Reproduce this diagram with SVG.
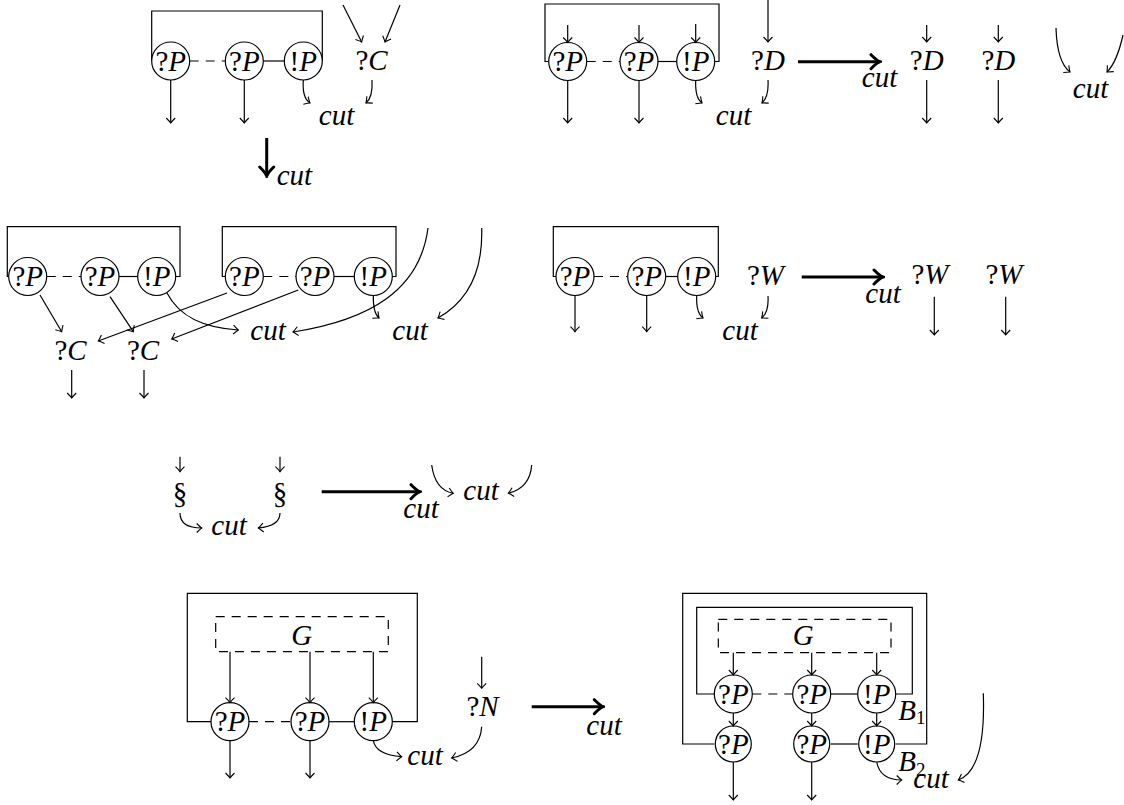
<svg xmlns="http://www.w3.org/2000/svg" width="1124" height="805" viewBox="0 0 1124 805">
<style>
text{font-family:"Liberation Serif","DejaVu Serif",serif;font-size:29px;fill:#000}
.c{text-anchor:middle}
.i{font-style:italic}
.sub{font-size:19px}
.ln{fill:none;stroke:#000;stroke-width:1.2}
.d{fill:none;stroke:#000;stroke-width:1.2;stroke-dasharray:9 7}
.ar{fill:none;stroke:#000;stroke-width:1.2;marker-end:url(#h)}
.big{fill:none;stroke:#000;stroke-width:3;marker-end:url(#H)}
circle{fill:#fff;stroke:#000;stroke-width:1.2}
</style>
<defs>
<marker id="h" viewBox="-8 -8 16 16" markerWidth="16" markerHeight="16" refX="0" refY="0" orient="auto" markerUnits="userSpaceOnUse">
<path d="M-5,-4.5 Q-1.5,-1 0,0 Q-1.5,1 -5,4.5" fill="none" stroke="#000" stroke-width="1.1"/>
</marker>
<marker id="H" viewBox="-12 -10 14 20" markerWidth="14" markerHeight="20" refX="0" refY="0" orient="auto" markerUnits="userSpaceOnUse">
<path d="M-9,-7 Q-3,-1 0,0 Q-3,1 -9,7" fill="none" stroke="#000" stroke-width="3" stroke-linecap="round"/>
</marker>
<symbol id="qP" overflow="visible"><text class="c" y="9.5"><tspan>?</tspan><tspan class="i">P</tspan></text></symbol>
<symbol id="bP" overflow="visible"><text class="c" y="9.5"><tspan>!</tspan><tspan class="i">P</tspan></text></symbol>
</defs>

<!-- ===== Section 1 ===== -->
<g id="s1-box"><path class="ln" d="M151.7,61 V11 H322.3 V61"/></g>
<g id="s1-links"><line class="d" x1="189.7" y1="61" x2="225.3" y2="61"/><line class="ln" x1="263.3" y1="61" x2="284.3" y2="61"/></g>
<g id="s1-p1"><circle cx="170.7" cy="61" r="19"/><use href="#qP" x="170.7" y="61"/></g>
<g id="s1-p2"><circle cx="244.3" cy="61" r="19"/><use href="#qP" x="244.3" y="61"/></g>
<g id="s1-p3"><circle cx="303.3" cy="61" r="19"/><use href="#bP" x="303.3" y="61"/></g>
<g id="s1-C"><text class="c" x="371.5" y="70"><tspan>?</tspan><tspan class="i">C</tspan></text></g>
<g id="s1-cut"><text class="c i" x="336.5" y="125">cut</text></g>

<g id="arrow1"><text class="i" x="276.7" y="185">cut</text></g>

<!-- ===== Section 2 ===== -->
<g id="s2-box"><path class="ln" d="M548.7,61.5 H545 V4 H719 V61.5 H714.7"/></g>
<g id="s2-links"><line class="d" x1="586.7" y1="61.5" x2="620" y2="61.5"/><line class="ln" x1="658" y1="61.5" x2="676.7" y2="61.5"/></g>
<g id="s2-p1"><circle cx="567.7" cy="61.5" r="19"/><use href="#qP" x="567.7" y="61.5"/></g>
<g id="s2-p2"><circle cx="639" cy="61.5" r="19"/><use href="#qP" x="639" y="61.5"/></g>
<g id="s2-p3"><circle cx="695.7" cy="61.5" r="19"/><use href="#bP" x="695.7" y="61.5"/></g>
<g id="s2-D"><text class="c" x="768" y="70"><tspan>?</tspan><tspan class="i">D</tspan></text></g>
<g id="s2-cut"><text class="c i" x="733.5" y="125">cut</text></g>
<g id="arrow2"><text class="c i" x="879.5" y="87">cut</text></g>
<g id="s2-D1"><text class="c" x="926.7" y="70"><tspan>?</tspan><tspan class="i">D</tspan></text></g>
<g id="s2-D2"><text class="c" x="998.3" y="70"><tspan>?</tspan><tspan class="i">D</tspan></text></g>
<g id="s2-cut2"><text class="c i" x="1090.5" y="98">cut</text></g>

<!-- ===== Section 3 ===== -->
<g id="s3-box1"><path class="ln" d="M8.7,276.5 H7.3 V226.7 H180 V276.5 H175.7"/></g>
<g id="s3-links1"><line class="d" x1="46.7" y1="276.5" x2="81" y2="276.5"/><line class="ln" x1="119" y1="276.5" x2="137.7" y2="276.5"/></g>
<g id="s3-p1"><circle cx="27.7" cy="276.5" r="19"/><use href="#qP" x="27.7" y="276.5"/></g>
<g id="s3-p2"><circle cx="100" cy="276.5" r="19"/><use href="#qP" x="100" y="276.5"/></g>
<g id="s3-p3"><circle cx="156.7" cy="276.5" r="19"/><use href="#bP" x="156.7" y="276.5"/></g>
<g id="s3-box2"><path class="ln" d="M225.3,276.5 H222.3 V226.7 H396 V276.5 H392.3"/></g>
<g id="s3-links2"><line class="d" x1="263.3" y1="276.5" x2="296" y2="276.5"/><line class="ln" x1="334" y1="276.5" x2="354.3" y2="276.5"/></g>
<g id="s3-p4"><circle cx="244.3" cy="276.5" r="19"/><use href="#qP" x="244.3" y="276.5"/></g>
<g id="s3-p5"><circle cx="315" cy="276.5" r="19"/><use href="#qP" x="315" y="276.5"/></g>
<g id="s3-p6"><circle cx="373.3" cy="276.5" r="19"/><use href="#bP" x="373.3" y="276.5"/></g>
<g id="s3-C1"><text class="c" x="70.5" y="360"><tspan>?</tspan><tspan class="i">C</tspan></text></g>
<g id="s3-C2"><text class="c" x="143" y="360"><tspan>?</tspan><tspan class="i">C</tspan></text></g>
<g id="s3-cut1"><text class="c i" x="268" y="340">cut</text></g>
<g id="s3-cut2"><text class="c i" x="410" y="340">cut</text></g>

<!-- ===== Section 4 ===== -->
<g id="s4-box"><path class="ln" d="M556,276.5 H553.3 V226.7 H718.3 V276.5 H715.7"/></g>
<g id="s4-links"><line class="d" x1="594" y1="276.5" x2="627.7" y2="276.5"/><line class="ln" x1="665.7" y1="276.5" x2="677.7" y2="276.5"/></g>
<g id="s4-p1"><circle cx="575" cy="276.5" r="19"/><use href="#qP" x="575" y="276.5"/></g>
<g id="s4-p2"><circle cx="646.7" cy="276.5" r="19"/><use href="#qP" x="646.7" y="276.5"/></g>
<g id="s4-p3"><circle cx="696.7" cy="276.5" r="19"/><use href="#bP" x="696.7" y="276.5"/></g>
<g id="s4-W"><text class="c" x="765.5" y="285"><tspan>?</tspan><tspan class="i">W</tspan></text></g>
<g id="s4-cut"><text class="c i" x="740" y="340">cut</text></g>
<g id="arrow4"><text class="c i" x="883" y="303">cut</text></g>
<g id="s4-W1"><text class="c" x="930" y="284"><tspan>?</tspan><tspan class="i">W</tspan></text></g>
<g id="s4-W2"><text class="c" x="1004" y="284"><tspan>?</tspan><tspan class="i">W</tspan></text></g>

<!-- ===== Section 5 ===== -->
<g id="s5-S1"><text class="c" x="180" y="503">§</text></g>
<g id="s5-S2"><text class="c" x="280" y="503">§</text></g>
<g id="s5-cut"><text class="c i" x="229" y="535">cut</text></g>
<g id="arrow5"><text class="c i" x="421" y="518">cut</text></g>
<g id="s5-cut2"><text class="c i" x="481" y="500">cut</text></g>

<!-- ===== Section 6 ===== -->
<g id="s6-box"><path class="ln" d="M211,721.7 H187.3 V593.3 H417.3 V721.7 H392.3"/></g>
<g id="s6-G"><rect class="d" x="215.7" y="616.7" width="172.6" height="35"/><text class="c i" x="301.7" y="645">G</text></g>
<g id="s6-links"><line class="d" x1="249" y1="721.7" x2="291" y2="721.7"/><line class="ln" x1="329" y1="721.7" x2="354.3" y2="721.7"/></g>
<g id="s6-p1"><circle cx="230" cy="721.7" r="19"/><use href="#qP" x="230" y="721.7"/></g>
<g id="s6-p2"><circle cx="310" cy="721.7" r="19"/><use href="#qP" x="310" y="721.7"/></g>
<g id="s6-p3"><circle cx="373.3" cy="721.7" r="19"/><use href="#bP" x="373.3" y="721.7"/></g>
<g id="s6-cut"><text class="c i" x="425" y="765">cut</text></g>
<g id="s6-N"><text class="c" x="482.5" y="716"><tspan>?</tspan><tspan class="i">N</tspan></text></g>
<g id="arrow6"><text class="c i" x="604" y="735">cut</text></g>

<!-- ===== Section 7 ===== -->
<g id="s7-outer"><path class="ln" d="M714.3,744 H682.7 V593.3 H926.7 V744 H895.7"/></g>
<g id="s7-inner"><path class="ln" d="M714.3,694 H696.7 V607.3 H912.3 V694 H895.7"/></g>
<g id="s7-G"><rect class="d" x="718.3" y="619.3" width="172.7" height="33.4"/><text class="c i" x="803.3" y="645">G</text></g>
<g id="s7-links"><line class="d" x1="752.3" y1="694" x2="792.7" y2="694"/><line class="ln" x1="830.7" y1="694" x2="857.7" y2="694"/><line class="ln" x1="830.7" y1="744" x2="857.7" y2="744"/></g>
<g id="s7-p1"><circle cx="733.3" cy="694" r="19"/><use href="#qP" x="733.3" y="694"/></g>
<g id="s7-p2"><circle cx="811.7" cy="694" r="19"/><use href="#qP" x="811.7" y="694"/></g>
<g id="s7-p3"><circle cx="876.7" cy="694" r="19"/><use href="#bP" x="876.7" y="694"/></g>
<g id="s7-p4"><circle cx="733.3" cy="744" r="18"/><use href="#qP" x="733.3" y="744"/></g>
<g id="s7-p5"><circle cx="811.7" cy="744" r="18"/><use href="#qP" x="811.7" y="744"/></g>
<g id="s7-p6"><circle cx="876.7" cy="744" r="18"/><use href="#bP" x="876.7" y="744"/></g>
<g id="s7-B1"><text class="i" x="898.3" y="720">B<tspan class="sub" font-style="normal" dy="4">1</tspan></text></g>
<g id="s7-B2"><text class="i" x="898.3" y="771">B<tspan class="sub" font-style="normal" dy="5">2</tspan></text></g>
<g id="s7-cut"><text class="c i" x="931" y="788">cut</text></g>

<!-- ===== Connectors ===== -->
<g id="connectors">
<line class="ar" x1="170.7" y1="80" x2="170.7" y2="123"/>
<line class="ar" x1="244.3" y1="80" x2="244.3" y2="123"/>
<path class="ar" d="M303.3,80 Q302,98 310,103"/>
<line class="ar" x1="343" y1="5" x2="361.7" y2="42"/>
<line class="ar" x1="400" y1="5" x2="385" y2="42"/>
<path class="ar" d="M372,80 Q373,97 366,103"/>
<line class="big" x1="266.7" y1="138" x2="266.7" y2="176"/>
<line class="ar" x1="567.7" y1="25" x2="567.7" y2="42.5"/>
<line class="ar" x1="639" y1="25" x2="639" y2="42.5"/>
<line class="ar" x1="695.7" y1="24" x2="695.7" y2="42.5"/>
<line class="ar" x1="567.7" y1="80.5" x2="567.7" y2="123"/>
<line class="ar" x1="639" y1="80.5" x2="639" y2="123"/>
<path class="ar" d="M695.7,80.5 Q695,98 702,103"/>
<line class="ar" x1="768" y1="0" x2="768" y2="42"/>
<path class="ar" d="M768,80 Q769,97 762,103"/>
<line class="big" x1="798" y1="61.7" x2="880" y2="61.7"/>
<line class="ar" x1="926.7" y1="25" x2="926.7" y2="42"/>
<line class="ar" x1="998.3" y1="25" x2="998.3" y2="42"/>
<line class="ar" x1="926.7" y1="80" x2="926.7" y2="123"/>
<line class="ar" x1="998.3" y1="80" x2="998.3" y2="123"/>
<path class="ar" d="M1056,28 Q1057,62 1070,72"/>
<path class="ar" d="M1123,35 Q1117,62 1107,72"/>
<line class="ar" x1="40" y1="295" x2="61.7" y2="331.7"/>
<line class="ar" x1="110" y1="296.7" x2="133.3" y2="331.7"/>
<path class="ar" d="M167,293 C180,318 205,328 238.3,330"/>
<line class="ar" x1="227" y1="293" x2="98.3" y2="341"/>
<line class="ar" x1="298.3" y1="290" x2="171.7" y2="339"/>
<path class="ar" d="M373.3,295.5 Q373,313 379,318"/>
<path class="ar" d="M428,228 C420,290 370,320 293,332"/>
<path class="ar" d="M481.7,228 C483,270 470,300 438,318"/>
<line class="ar" x1="71.7" y1="370" x2="71.7" y2="398"/>
<line class="ar" x1="144" y1="370" x2="144" y2="398"/>
<line class="ar" x1="575" y1="295.5" x2="575" y2="331.7"/>
<line class="ar" x1="646.7" y1="295.5" x2="646.7" y2="331.7"/>
<path class="ar" d="M696.7,295.5 Q696,313 703,318"/>
<path class="ar" d="M768,296 Q769,312 761.7,318"/>
<line class="big" x1="801.7" y1="277" x2="883" y2="277"/>
<line class="ar" x1="934.3" y1="296.7" x2="934.3" y2="335"/>
<line class="ar" x1="1005.7" y1="296.7" x2="1005.7" y2="335"/>
<line class="ar" x1="180" y1="456.7" x2="180" y2="471.7"/>
<line class="ar" x1="280" y1="456.7" x2="280" y2="471.7"/>
<path class="ar" d="M180,513 Q180,528 201.7,528"/>
<path class="ar" d="M280,513 Q280,526 258.3,528"/>
<line class="big" x1="321.7" y1="491.7" x2="420" y2="491.7"/>
<path class="ar" d="M431.7,465 Q435,490 453.3,493.3"/>
<path class="ar" d="M531.7,465 Q530,488 508.3,493.3"/>
<line class="ar" x1="230" y1="651.7" x2="230" y2="702.7"/>
<line class="ar" x1="310" y1="651.7" x2="310" y2="702.7"/>
<line class="ar" x1="373.3" y1="651.7" x2="373.3" y2="702.7"/>
<line class="ar" x1="230" y1="740.7" x2="230" y2="778"/>
<line class="ar" x1="310" y1="740.7" x2="310" y2="778"/>
<path class="ar" d="M373.3,740.7 Q376,755 401.7,756.7"/>
<line class="ar" x1="481.7" y1="656.7" x2="481.7" y2="688.3"/>
<path class="ar" d="M481.7,726.7 Q480,752 451.7,758"/>
<line class="big" x1="531.7" y1="706.7" x2="603.3" y2="706.7"/>
<line class="ar" x1="733.3" y1="652.7" x2="733.3" y2="675"/>
<line class="ar" x1="811.7" y1="652.7" x2="811.7" y2="675"/>
<line class="ar" x1="876.7" y1="652.7" x2="876.7" y2="675"/>
<line class="ar" x1="733.3" y1="713" x2="733.3" y2="726"/>
<line class="ar" x1="811.7" y1="713" x2="811.7" y2="726"/>
<line class="ar" x1="876.7" y1="713" x2="876.7" y2="726"/>
<line class="ar" x1="733.3" y1="762" x2="733.3" y2="800"/>
<line class="ar" x1="811.7" y1="762" x2="811.7" y2="800"/>
<path class="ar" d="M876.7,762 Q880,780 901.7,780"/>
<path class="ar" d="M983.3,693.3 Q986,770 958.3,780"/>
</g>
</svg>
